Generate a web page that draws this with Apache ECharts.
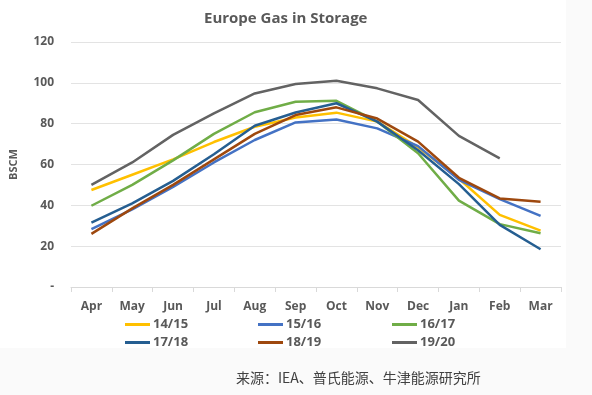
<!DOCTYPE html>
<html><head><meta charset="utf-8">
<script src="https://cdn.jsdelivr.net/npm/echarts@6/dist/echarts.min.js"></script>
<style>html,body{margin:0;padding:0;background:#fafafa}#c{width:592px;height:395px}</style>
</head><body><div id="c"></div>
<script>
const months = ['Apr','May','Jun','Jul','Aug','Sep','Oct','Nov','Dec','Jan','Feb','Mar'];
const yTicks = [0,20,40,60,80,100,120];
const s1415 = [47.5,55,62.5,71,78.5,83,85.4,81,68.4,53,35.3,27.6];
const s1516 = [28.4,38,49,61,72,80.6,82,77.7,69,52.5,43,34.8];
const s1617 = [39.8,50,62,75,85.6,90.7,91.2,81,65.5,42.3,30.8,26.3];
const s1718 = [31.5,41,52,65,79,85.5,90,81,67,50.4,30.4,18.5];
const s1819 = [26,38.5,50,62.5,75,84.2,88,82.5,71.2,53.5,43.4,41.8];
const s1920 = [50,61,74.5,85,94.8,99.4,101,97.3,91.6,74,63,null];
const names = ['14/15','15/16','16/17','17/18','18/19','19/20'];
const values = [s1415,s1516,s1617,s1718,s1819,s1920];
const colors = ['#FFC000','#4472C4','#70AD47','#255E91','#9E480E','#636363'];
const legendPos = [[120,313],[253,313],[387,313],[120,331],[253,331],[387,331]];
const txt = '#595959';
const font = '"Open Sans", "Liberation Sans", sans-serif';
const chart = echarts.init(document.getElementById('c'));
chart.setOption({
  backgroundColor:'#fafafa',
  animation:false,
  graphic:[{type:'rect',left:0,top:0,shape:{width:566,height:348},style:{fill:'#ffffff'},z:-10,silent:true}],
  title:[
    {text:'Europe Gas in Storage',left:199,top:6,textStyle:{fontFamily:font,fontSize:15,fontWeight:'bold',color:txt}},
    {text:'来源：IEA、普氏能源、牛津能源研究所',left:231,top:366,textStyle:{fontFamily:'"Noto Sans CJK SC", sans-serif',fontSize:14,fontWeight:'normal',color:'#404040'}}
  ],
  legend: names.map((n,i)=>({
    data:[n], left:legendPos[i][0], top:legendPos[i][1], itemWidth:25, itemHeight:3, itemGap:0,
    icon:'rect', textStyle:{fontFamily:font,fontSize:13,fontWeight:'bold',color:txt,padding:[0,0,0,-2]}
  })),
  grid:{left:70,right:31,top:42,bottom:108},
  xAxis:{type:'category',data:months,boundaryGap:true,
    axisLine:{lineStyle:{color:'#D9D9D9',width:1}},
    axisTick:{show:true,length:5,lineStyle:{color:'#D9D9D9'}},
    axisLabel:{fontFamily:font,fontSize:12,fontWeight:'bold',color:txt,margin:14}},
  yAxis:{type:'value',min:yTicks[0],max:yTicks[yTicks.length-1],interval:20,
    name:'BSCM',nameLocation:'middle',nameGap:52,nameRotate:90,
    nameTextStyle:{fontFamily:font,fontSize:11,fontWeight:'bold',color:txt},
    axisLine:{show:false},axisTick:{show:false},
    splitLine:{lineStyle:{color:'#E3E3E3',width:1}},
    axisLabel:{fontFamily:font,fontSize:12,fontWeight:'bold',color:txt,margin:17,
      formatter:v=>v===0?'-':String(v)}},
  series: names.map((n,i)=>({
    name:n,type:'line',data:values[i],symbol:'none',
    lineStyle:{color:colors[i],width:2.5},itemStyle:{color:colors[i]},z:2+i
  }))
});
</script></body></html>
